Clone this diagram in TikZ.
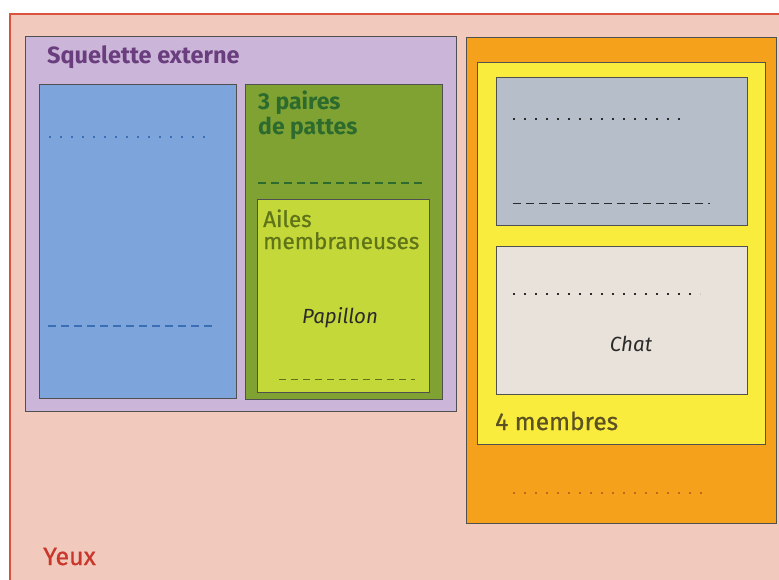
\documentclass[tikz,border=0pt]{standalone}
\usepackage{fontspec}
\setmainfont{Fira Sans}
\newfontfamily\midfont{Fira Sans}[FakeBold=0.7]
\usetikzlibrary{positioning}

\definecolor{pinkbg}{HTML}{F2CABD}
\definecolor{redline}{HTML}{D9533F}
\definecolor{boxline}{HTML}{505050}
\definecolor{skelfill}{HTML}{CBB6D9}
\definecolor{skeltext}{HTML}{6A3D7E}
\definecolor{bluefill}{HTML}{7DA5DB}
\definecolor{bluedot}{HTML}{3A6FB5}
\definecolor{greenfill}{HTML}{7FA232}
\definecolor{greentext}{HTML}{2C6A2E}
\definecolor{limefill}{HTML}{C5D83A}
\definecolor{limetext}{HTML}{5F7418}
\definecolor{orangefill}{HTML}{F6A11B}
\definecolor{orangedot}{HTML}{C8651A}
\definecolor{yellowfill}{HTML}{FAEC3C}
\definecolor{membtext}{HTML}{5B5123}
\definecolor{greyfill}{HTML}{B6BFC9}
\definecolor{creamfill}{HTML}{E9E2DB}
\definecolor{darktext}{HTML}{2A2A2A}
\definecolor{eyetext}{HTML}{C9372C}

\begin{document}
\begin{tikzpicture}[x=1pt,y=-1pt,
  panel/.style={draw=boxline, line width=0.7pt},
  label/.style={anchor=base west, inner sep=0pt, font=\fontsize{20}{24}\selectfont},
  dots/.style={line width=2.2pt, dash pattern=on 1.8pt off 9.2pt},
  dashes/.style={line width=1.2pt, dash pattern=on 8pt off 5pt}]
\useasboundingbox (0,0) rectangle (779,580);
\fill[white] (0,0) rectangle (779,580);

% Background
\draw[fill=pinkbg, draw=redline, line width=1.5pt] (10,14) rectangle (795,600);

% Left part: external skeleton
\draw[panel, fill=skelfill] (25,36) rectangle (456,411);
\draw[panel, fill=bluefill] (39,84) rectangle (236,398);
\draw[panel, fill=greenfill] (245,84) rectangle (442,399);
\draw[panel, fill=limefill] (257,199) rectangle (429,392);

\draw[dots, bluedot] (49,137) -- (210,137);
\draw[dashes, bluedot, line width=1.4pt] (48,326) -- (212,326);
\draw[dashes, greentext, line width=1.6pt] (258,183) -- (422,183);
\draw[dashes, limetext, line width=0.9pt, dash pattern=on 7pt off 5pt] (279,379) -- (415,379);

% Right part: orange / yellow
\draw[panel, fill=orangefill] (466,37) rectangle (776,523);
\draw[panel, fill=yellowfill] (477,62) rectangle (765,444);
\draw[panel, fill=greyfill] (496,77) rectangle (747,225);
\draw[panel, fill=creamfill] (496,246) rectangle (747,394);

\draw[dots, darktext, line width=1.8pt] (513,119) -- (688,119);
\draw[dashes, darktext, line width=0.9pt] (513,203) -- (710,203);
\draw[dots, darktext, line width=1.8pt] (513,294) -- (700,294);
\draw[dots, orangedot, line width=1.8pt] (513,493) -- (710,493);

% Labels
\node[label, font=\fontsize{23.5}{28}\selectfont\bfseries, skeltext] (skel) at (47,64) {Squelette externe};
\node[label, font=\fontsize{23}{27}\selectfont\bfseries, greentext] (pairs) at (258,110) {3 paires};
\node[label, font=\fontsize{23}{27}\selectfont\bfseries, greentext] (legs) at (258,135) {de pattes};
\node[label, font=\fontsize{22.5}{27}\selectfont\midfont, limetext] (wings) at (263,227) {Ailes};
\node[label, font=\fontsize{22.5}{27}\selectfont\midfont, limetext] (membr) at (263,249) {membraneuses};
\node[label, anchor=base, font=\fontsize{20.5}{24}\selectfont\itshape, darktext] (butterfly) at (340,323) {Papillon};
\node[label, anchor=base, font=\fontsize{20.5}{24}\selectfont\itshape, darktext] (cat) at (631,351) {Chat};
\node[label, font=\fontsize{24.5}{29}\selectfont\midfont, membtext] (limbs) at (495,430) {4 membres};
\node[label, font=\fontsize{25}{30}\selectfont\midfont, eyetext] (eyes) at (43,565) {Yeux};
\end{tikzpicture}
\end{document}
